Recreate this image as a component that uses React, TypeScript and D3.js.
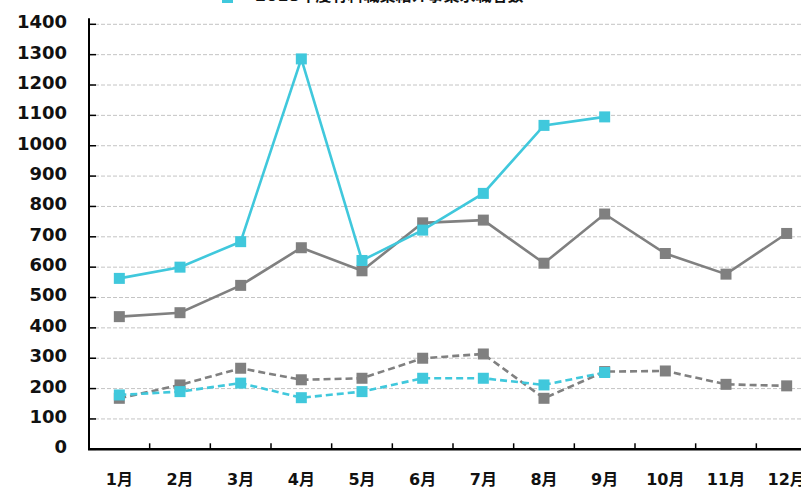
import { useEffect, useRef } from "react"
import * as d3 from "d3"

const months = ["1月", "2月", "3月", "4月", "5月", "6月", "7月", "8月", "9月", "10月", "11月", "12月"]
const yTicks = [0, 100, 200, 300, 400, 500, 600, 700, 800, 900, 1000, 1100, 1200, 1300, 1400]

// solid lines
const graySolid = [437, 450, 540, 664, 588, 746, 755, 613, 775, 645, 577, 711]
const cyanSolid = [563, 600, 684, 1286, 622, 722, 843, 1067, 1095]
// dashed lines
const grayDashed = [168, 212, 267, 229, 234, 300, 314, 168, 256, 258, 214, 209]
const cyanDashed = [179, 190, 218, 170, 190, 234, 234, 212, 253]

const legendLabel = "2018年度有料職業紹介事業求職者数"

const GRAY = "#808080"
const CYAN = "#40C8DC"

export default function App() {
  const svgRef = useRef<SVGSVGElement>(null)

  useEffect(() => {
    if (!svgRef.current) return
    const svg = d3.select(svgRef.current)
    svg.selectAll("*").remove()

    const left = 89
    const right = 817
    const top = 24.3
    const bottom = 449.3

    const x = d3.scaleBand<string>().domain(months).range([left, right])
    const y = d3.scaleLinear().domain([0, 1400]).range([bottom, top])
    const cx = (i: number) => (x(months[i]) ?? 0) + x.bandwidth() / 2

    // * Gridlines
    svg
      .append("g")
      .selectAll("line")
      .data(yTicks.filter((d) => d > 0))
      .join("line")
      .attr("x1", left)
      .attr("x2", right)
      .attr("y1", (d) => y(d))
      .attr("y2", (d) => y(d))
      .attr("stroke", "#c4c4c4")
      .attr("stroke-width", 1)
      .attr("stroke-dasharray", "4,2")

    // * Y axis ticks (inward)
    svg
      .append("g")
      .selectAll("line")
      .data(yTicks)
      .join("line")
      .attr("x1", left)
      .attr("x2", left + 7)
      .attr("y1", (d) => y(d))
      .attr("y2", (d) => y(d))
      .attr("stroke", "#000")
      .attr("stroke-width", 1.5)

    // * X axis ticks at band boundaries (inward)
    svg
      .append("g")
      .selectAll("line")
      .data(months.slice(1))
      .join("line")
      .attr("x1", (d) => x(d) ?? 0)
      .attr("x2", (d) => x(d) ?? 0)
      .attr("y1", bottom)
      .attr("y2", bottom - 6)
      .attr("stroke", "#000")
      .attr("stroke-width", 1.5)

    // * Axis lines
    svg
      .append("line")
      .attr("x1", left)
      .attr("x2", left)
      .attr("y1", top - 6)
      .attr("y2", bottom)
      .attr("stroke", "#000")
      .attr("stroke-width", 2)
    svg
      .append("line")
      .attr("x1", left - 1)
      .attr("x2", right)
      .attr("y1", bottom)
      .attr("y2", bottom)
      .attr("stroke", "#000")
      .attr("stroke-width", 2.5)

    // * Y labels
    svg
      .append("g")
      .selectAll("text")
      .data(yTicks)
      .join("text")
      .attr("x", 67)
      .attr("y", (d) => y(d))
      .attr("dy", "0.22em")
      .attr("text-anchor", "end")
      .attr("font-family", "'DejaVu Sans', Verdana, sans-serif")
      .attr("font-weight", "bold")
      .attr("font-size", "18px")
      .attr("fill", "#111")
      .text((d) => d)

    // * X labels
    svg
      .append("g")
      .selectAll("text")
      .data(months)
      .join("text")
      .attr("x", (_, i) => cx(i))
      .attr("y", 479)
      .attr("dy", "0.36em")
      .attr("text-anchor", "middle")
      .attr("font-family", "'DejaVu Sans', 'Noto Sans CJK JP', sans-serif")
      .attr("font-weight", "bold")
      .attr("font-size", "16px")
      .attr("fill", "#111")
      .text((d) => d)

    // * Series
    const series = [
      { values: graySolid, color: GRAY, dash: null },
      { values: grayDashed, color: GRAY, dash: "7,4" },
      { values: cyanSolid, color: CYAN, dash: null },
      { values: cyanDashed, color: CYAN, dash: "7,4" },
    ]

    const line = d3
      .line<number>()
      .x((_, i) => cx(i))
      .y((d) => y(d))

    series.forEach((s) => {
      svg
        .append("path")
        .datum(s.values)
        .attr("d", line)
        .attr("fill", "none")
        .attr("stroke", s.color)
        .attr("stroke-width", 2.6)
        .attr("stroke-dasharray", s.dash)

      svg
        .append("g")
        .selectAll("rect")
        .data(s.values)
        .join("rect")
        .attr("x", (_, i) => cx(i) - 5.5)
        .attr("y", (d) => y(d) - 5.5)
        .attr("width", 11)
        .attr("height", 11)
        .attr("fill", s.color)
    })

    // * Legend (mostly clipped at the top)
    svg
      .append("rect")
      .attr("x", 222)
      .attr("y", -8)
      .attr("width", 11)
      .attr("height", 11)
      .attr("fill", CYAN)
    svg
      .append("text")
      .attr("x", 255)
      .attr("y", 1)
      .attr("font-family", "'DejaVu Sans', 'Noto Sans CJK JP', sans-serif")
      .attr("font-weight", "bold")
      .attr("font-size", "16px")
      .attr("fill", "#111")
      .text(legendLabel)
  }, [])

  return (
    <svg
      ref={svgRef}
      width={801}
      height={489}
      style={{ position: "absolute", left: 0, top: 0, background: "#fff" }}
    ></svg>
  )
}
